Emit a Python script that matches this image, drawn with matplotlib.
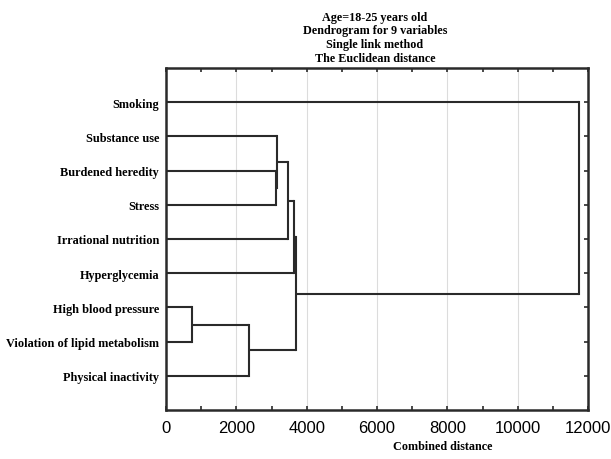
import matplotlib
matplotlib.use("Agg")
import matplotlib.pyplot as plt
from matplotlib.ticker import MultipleLocator

leaves = ["Smoking", "Substance use", "Burdened heredity", "Stress",
          "Irrational nutrition", "Hyperglycemia", "High blood pressure",
          "Violation of lipid metabolism", "Physical inactivity"]
# merges: (child a, child b, distance); children index leaves (0..8) or earlier merges (9..)
merge_a = [6, 2, 1, 9, 11, 13, 14, 0]
merge_b = [7, 3, 10, 8, 4, 5, 12, 15]
merge_dist = [730, 3120, 3170, 2360, 3470, 3645, 3685, 11750]
xticks = [0, 2000, 4000, 6000, 8000, 10000, 12000]
title_lines = ["Age=18-25 years old", "Dendrogram for 9 variables",
               "Single link method", "The Euclidean distance"]

W, H = 611, 460
fig = plt.figure(figsize=(W / 100, H / 100), dpi=100)
ax = fig.add_axes([166 / W, 1 - 411 / H, 422 / W, 342 / H])

serif = ["Liberation Serif", "DejaVu Serif"]
line_col = "#2a2a2a"

pos = {i: i + 1 for i in range(len(leaves))}
hgt = {i: 0 for i in range(len(leaves))}
for k, (a, b, d) in enumerate(zip(merge_a, merge_b, merge_dist)):
    node = len(leaves) + k
    for c in (a, b):
        ax.plot([hgt[c], d], [pos[c], pos[c]], color=line_col, lw=1.5,
                solid_capstyle="butt", zorder=3)
    ax.plot([d, d], [pos[a], pos[b]], color=line_col, lw=1.5,
            solid_capstyle="projecting", zorder=3)
    pos[node] = (pos[a] + pos[b]) / 2
    hgt[node] = d

ax.set_xlim(0, 12000)
ax.set_ylim(10, 0)
ax.set_xticks(xticks)
ax.xaxis.set_minor_locator(MultipleLocator(1000))
for g in xticks[1:-1]:
    ax.axvline(g, color="#dcdcdc", lw=0.8, zorder=1)
ax.set_yticks(range(1, len(leaves) + 1))
ax.set_yticklabels(leaves, family=serif, fontweight="bold", fontsize=8.8)
ax.set_xticklabels([str(t) for t in xticks], family=["Liberation Sans", "DejaVu Sans"],
                   fontsize=12)
ax.tick_params(axis="x", which="both", direction="in", top=True, length=3,
               width=1.2, pad=7, color=line_col)
ax.tick_params(axis="y", which="both", direction="in", right=True, length=3,
               width=1.2, pad=5, color=line_col)
for s in ax.spines.values():
    s.set_linewidth(1.8)
    s.set_color(line_col)

fig.text(375 / W, 1 - 65 / H, "\n".join(title_lines), ha="center", va="bottom",
         family=serif, fontweight="bold", fontsize=8.7, linespacing=1.2)
fig.text(443 / W, 1 - 447 / H, "Combined distance", ha="center", va="center",
         family=serif, fontweight="bold", fontsize=8.7)

fig.savefig("out.png", dpi=100)
